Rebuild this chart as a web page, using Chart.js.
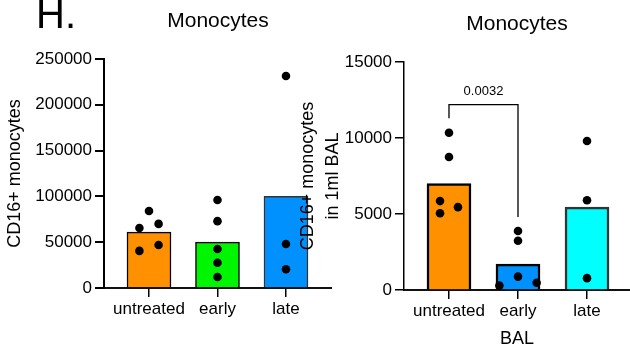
<!DOCTYPE html>
<html><head><meta charset="utf-8">
<script src="https://cdn.jsdelivr.net/npm/chart.js@4"></script>
<style>
html,body{margin:0;padding:0;background:#fff;}
#wrap{position:relative;width:630px;height:346px;overflow:hidden;font-family:"Liberation Sans",Arial,sans-serif;background:#fff;}
#c1{position:absolute;left:0;top:0;}
#c2{position:absolute;left:290px;top:0;z-index:2;}
#lbl{position:absolute;left:36px;top:-6px;font-size:40px;line-height:40px;color:#000;z-index:3;}
</style></head><body>
<div id="wrap"><div id="lbl">H.</div><canvas id="c1" width="332" height="346"></canvas><canvas id="c2" width="340" height="346"></canvas></div>
<script>
const categories = ['untreated', 'early', 'late'];
const chartTitle = 'Monocytes';

// left panel (blood)
const leftBarMeans = [61000, 50000, 100000];
const leftUntreated = [84000, 65500, 70000, 40500, 47000];
const leftEarly = [96000, 73000, 42500, 27500, 12000];
const leftLate = [231500, 48000, 20500];
const leftYTicks = [0, 50000, 100000, 150000, 200000, 250000];
const leftYTitle = 'CD16+ monocytes';

// right panel (BAL)
const rightBarMeans = [7000, 1700, 5450];
const rightUntreated = [10350, 8750, 5850, 5050, 5450];
const rightEarly = [3880, 3240, 880, 290, 480];
const rightLate = [9800, 5900, 780];
const rightYTicks = [0, 5000, 10000, 15000];
const rightYTitle = ['CD16+ monocytes', 'in 1ml BAL'];
const rightXTitle = 'BAL';

// significance annotation (right panel)
const pValue = '0.0032';
const bracketPair = [0, 1];
const bracketLevels = [11300, 12200, 4800]; // left leg end, bar, right leg end

// horizontal scatter of dots within a category (fraction of category width)
const leftJitter = [[0, -0.14, 0.14, -0.14, 0.14], [0, 0, 0, 0, 0], [0, 0, 0]];
const rightJitter = [[0, 0, -0.13, -0.13, 0.13], [0, 0, 0, -0.27, 0.27], [0, 0, 0]];

const FONT = '"Liberation Sans", Arial, sans-serif';
Chart.defaults.font.family = FONT;
Chart.defaults.color = '#000';

const bracketPlugin = {
  id: 'bracket',
  afterDatasetsDraw(chart) {
    const {ctx, scales: {x, y}} = chart;
    const x0 = x.getPixelForValue(bracketPair[0]);
    const x1 = x.getPixelForValue(bracketPair[1]);
    const yl = y.getPixelForValue(bracketLevels[0]);
    const yt = y.getPixelForValue(bracketLevels[1]);
    const yr = y.getPixelForValue(bracketLevels[2]);
    ctx.save();
    ctx.strokeStyle = '#000';
    ctx.lineWidth = 1.3;
    ctx.beginPath();
    ctx.moveTo(x0, yl); ctx.lineTo(x0, yt); ctx.lineTo(x1, yt); ctx.lineTo(x1, yr);
    ctx.stroke();
    ctx.font = '13px ' + FONT;
    ctx.fillStyle = '#000';
    ctx.textAlign = 'center';
    ctx.textBaseline = 'alphabetic';
    ctx.fillText(pValue, (x0 + x1) / 2, yt - 10);
    ctx.restore();
  }
};

function dots(groups, jitter) {
  const out = [];
  groups.forEach((g, i) => g.forEach((v, j) => out.push({x: i + jitter[i][j], y: v})));
  return out;
}

function makeChart(id, o) {
  return new Chart(document.getElementById(id), {
    type: 'bar',
    data: {
      datasets: [
        {
          type: 'scatter',
          data: dots(o.groups, o.jitter),
          pointRadius: 4.3,
          pointBackgroundColor: '#000',
          pointBorderWidth: 0,
          order: 1
        },
        {
          type: 'bar',
          data: o.means.map((v, i) => ({x: i, y: v})),
          backgroundColor: o.colors,
          borderColor: o.borders,
          borderWidth: o.barBorder,
          barThickness: 44,
          order: 2
        }
      ]
    },
    options: {
      responsive: false,
      animation: false,
      events: [],
      layout: {padding: 0, autoPadding: false},
      plugins: {
        legend: {display: false},
        tooltip: {enabled: false},
        title: {
          display: true, text: chartTitle, fullSize: false, color: '#000',
          font: {size: 21, weight: 'normal', family: FONT},
          padding: o.titlePad
        }
      },
      scales: {
        x: {
          type: 'linear', min: o.xMin, max: o.xMax, offset: false,
          afterBuildTicks: s => { s.ticks = categories.map((_, i) => ({value: i})); },
          afterFit: s => { s.height = o.xHeight; s.paddingLeft = 0; s.paddingRight = 0; },
          ticks: {callback: v => categories[v], font: {size: 17}, color: '#000', padding: 2, maxRotation: 0, autoSkip: false},
          grid: {display: true, offset: false, drawOnChartArea: false, drawTicks: true, tickLength: 9, color: '#000', lineWidth: 1.5},
          border: {display: true, color: '#111', width: 2, dash: [2, 1]},
          title: o.xTitle ? {display: true, text: o.xTitle, color: '#000', font: {size: 18, lineHeight: 0.8}, padding: {top: 0, bottom: 0}} : {display: false}
        },
        y: {
          type: 'linear', min: 0, max: o.yTicks[o.yTicks.length - 1],
          afterBuildTicks: s => { s.ticks = o.yTicks.map(v => ({value: v})); },
          afterFit: s => { s.width = o.yWidth; },
          ticks: {callback: v => String(v), font: {size: 17}, color: '#000', padding: 3},
          grid: {display: true, drawOnChartArea: false, drawTicks: true, tickLength: 9, color: '#000', lineWidth: o.axisW},
          border: {display: true, color: '#000', width: o.axisW},
          title: {display: true, text: o.yTitle, color: '#000', font: {size: 18, lineHeight: o.yTitleLH}, padding: {top: o.yTitlePad, bottom: 0}}
        }
      }
    },
    plugins: o.plugins || []
  });
}

makeChart('c1', {
  groups: [leftUntreated, leftEarly, leftLate],
  jitter: leftJitter,
  means: leftBarMeans,
  colors: ['#FF9100', '#00F500', '#0091FF'],
  borders: ['#000', '#000', '#333'],
  barBorder: 1.5,
  xMin: -0.657, xMax: 2.672,
  xHeight: 58,
  yWidth: 104,
  yTicks: leftYTicks,
  yTitle: leftYTitle,
  yTitleLH: 1.2,
  yTitlePad: 4,
  axisW: 2,
  titlePad: {top: 9, bottom: 24.8}
});

makeChart('c2', {
  groups: [rightUntreated, rightEarly, rightLate],
  jitter: rightJitter,
  means: rightBarMeans,
  colors: ['#FF9100', '#0091FF', '#00FFFF'],
  borders: ['#000', '#000', '#333'],
  barBorder: 2.5,
  xMin: -0.652, xMax: 2.623,
  xHeight: 56,
  xTitle: rightXTitle,
  yWidth: 114,
  yTicks: rightYTicks,
  yTitle: rightYTitle,
  yTitleLH: 1.36,
  yTitlePad: 6.25,
  axisW: 1.5,
  titlePad: {top: 11.5, bottom: 25.3},
  plugins: [bracketPlugin]
});
</script>
</body></html>
